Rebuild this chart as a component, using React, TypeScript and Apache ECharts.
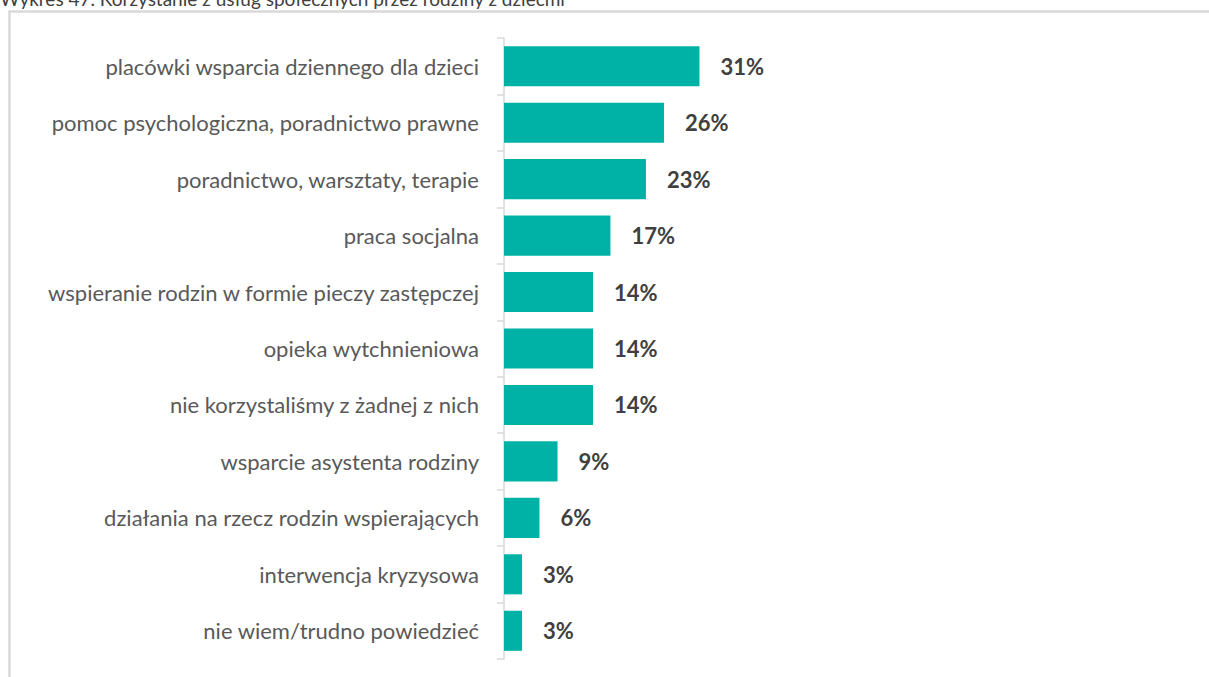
import React, { useEffect, useRef } from "react";
import * as echarts from "echarts";

const titleText = "Wykres 47. Korzystanie z usług społecznych przez rodziny z dziećmi";
const categories = [
  "placówki wsparcia dziennego dla dzieci",
  "pomoc psychologiczna, poradnictwo prawne",
  "poradnictwo, warsztaty, terapie",
  "praca socjalna",
  "wspieranie rodzin w formie pieczy zastępczej",
  "opieka wytchnieniowa",
  "nie korzystaliśmy z żadnej z nich",
  "wsparcie asystenta rodziny",
  "działania na rzecz rodzin wspierających",
  "interwencja kryzysowa",
  "nie wiem/trudno powiedzieć",
];
const values = [31.4, 25.7, 22.8, 17.1, 14.3, 14.3, 14.3, 8.6, 5.7, 2.9, 2.9];

export default function App() {
  const ref = useRef<HTMLDivElement>(null);
  useEffect(() => {
    document.body.style.margin = "0";
    const chart = echarts.init(ref.current!, null, { renderer: "svg" });
    chart.setOption({
      animation: false,
      backgroundColor: "#ffffff",
      graphic: [
        {
          type: "rect",
          shape: { x: 9.5, y: 11.5, width: 1400, height: 900 },
          style: { fill: "none", stroke: "#d9d9d9", lineWidth: 2.5 },
          z: 0,
        },
        {
          type: "text",
          x: 0,
          y: 8,
          style: {
            text: titleText,
            font: "19px Lato, 'Open Sans', sans-serif",
            fill: "#404040",
            verticalAlign: "bottom",
          },
        },
      ],
      grid: { left: 504, right: 456, top: 38, bottom: 18 },
      xAxis: {
        type: "value",
        min: 0,
        max: 40,
        show: false,
      },
      yAxis: {
        type: "category",
        data: categories,
        inverse: true,
        axisLine: { show: true, lineStyle: { color: "#d9d9d9", width: 1.5 } },
        axisTick: { show: true, length: 7, lineStyle: { color: "#d9d9d9", width: 1.5 } },
        axisLabel: {
          color: "#595959",
          fontSize: 22,
          fontFamily: "Lato, 'Open Sans', sans-serif",
          margin: 25,
        },
        splitLine: { show: false },
      },
      series: [
        {
          type: "bar",
          data: values,
          barCategoryGap: "29%",
          itemStyle: { color: "#00B2A6" },
          label: {
            show: true,
            position: "right",
            distance: 21,
            formatter: (p: any) => Math.round(p.value) + "%",
            color: "#404040",
            fontSize: 22,
            fontWeight: "bold",
            fontFamily: "Lato, 'Open Sans', sans-serif",
          },
        },
      ],
    });
    return () => chart.dispose();
  }, []);
  return <div ref={ref} style={{ width: 1209, height: 677 }} />;
}
